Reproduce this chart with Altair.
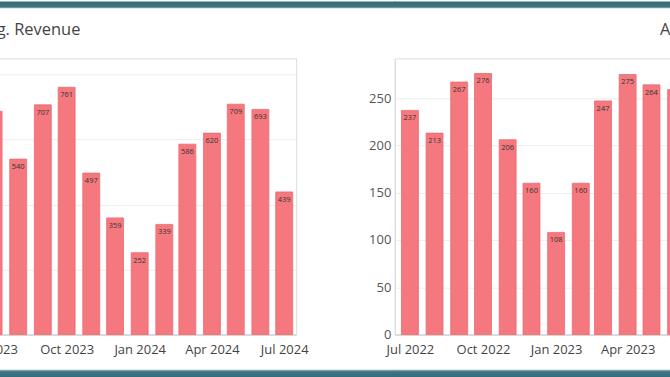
import altair as alt
import pandas as pd

# ---- data ----
left_title = "Avg. Revenue"
left_months = ["2023-07-01", "2023-08-01", "2023-09-01", "2023-10-01", "2023-11-01",
               "2023-12-01", "2024-01-01", "2024-02-01", "2024-03-01", "2024-04-01",
               "2024-05-01", "2024-06-01", "2024-07-01"]
left_values = [687, 540, 707, 761, 497, 359, 252, 339, 586, 620, 709, 693, 439]
left_ticks = ["2023-07-01", "2023-10-01", "2024-01-01", "2024-04-01", "2024-07-01"]
left_grid = [200, 400, 600, 800]

right_title = "Avg. Orders"
right_months = ["2022-07-01", "2022-08-01", "2022-09-01", "2022-10-01", "2022-11-01",
                "2022-12-01", "2023-01-01", "2023-02-01", "2023-03-01", "2023-04-01",
                "2023-05-01", "2023-06-01"]
right_values = [237, 213, 267, 276, 206, 160, 108, 160, 247, 275, 264, 259]
right_ticks = ["2022-07-01", "2022-10-01", "2023-01-01", "2023-04-01", "2023-07-01"]
right_yticks = [0, 50, 100, 150, 200, 250]

BAR = "#F5787E"
BAR_EDGE = "#E86C72"
TEAL_DARK = "#386b78"
TEAL = "#3f7381"
TEAL_MID = "#6f97a2"
TEAL_LIGHT = "#c6d7dc"
GRID = "#eeeeee"
FONT = "Open Sans"


def dt(s):
    y, m, d = (int(p) for p in s.split("-"))
    return alt.DateTime(year=y, month=m, date=d)


grad_top = alt.Gradient(gradient="linear", x1=0, x2=0, y1=0, y2=1, stops=[
    alt.GradientStop(offset=0, color=TEAL_DARK),
    alt.GradientStop(offset=0.7, color=TEAL),
    alt.GradientStop(offset=0.85, color=TEAL_MID),
    alt.GradientStop(offset=1, color=TEAL_LIGHT)])
grad_bot = alt.Gradient(gradient="linear", x1=0, x2=0, y1=0, y2=1, stops=[
    alt.GradientStop(offset=0, color=TEAL_LIGHT),
    alt.GradientStop(offset=0.15, color=TEAL_MID),
    alt.GradientStop(offset=0.3, color=TEAL),
    alt.GradientStop(offset=1, color=TEAL_DARK)])


def panel(title, months, values, xdomain, xticks, width, ydomain, yaxis,
          title_dx, sx1, sx2):
    df = pd.DataFrame({"month": pd.to_datetime(months), "value": values})
    sdf = pd.DataFrame({"k": [0]})
    base = alt.Chart(df).encode(
        x=alt.X("month:T",
                scale=alt.Scale(domain=[dt(xdomain[0]), dt(xdomain[1])],
                                nice=False, padding=0),
                axis=alt.Axis(values=[dt(t) for t in xticks], format="%b %Y",
                              formatType="time", labelFontSize=13, labelColor="#444",
                              labelFont=FONT, ticks=False, tickSize=0, labelPadding=9,
                              domainColor="#d4d4d4", domainWidth=1.5, grid=False,
                              labelFlush=False, labelOverlap=False, title=None)),
        y=alt.Y("value:Q", scale=alt.Scale(domain=ydomain, nice=False, zero=True),
                axis=yaxis),
    )
    bars = base.mark_bar(width=17, fill=BAR, stroke=BAR_EDGE, strokeWidth=0.8)
    labels = base.mark_text(baseline="top", dy=4, fontSize=7.5, color="#333",
                            font=FONT).encode(text=alt.Text("value:Q", format="d"))
    top = alt.Chart(sdf).mark_rect(color=grad_top).encode(
        x=alt.value(sx1), x2=alt.value(sx2), y=alt.value(-57), y2=alt.value(-50))
    bot = alt.Chart(sdf).mark_rect(color=grad_bot).encode(
        x=alt.value(sx1), x2=alt.value(sx2), y=alt.value(312), y2=alt.value(320))
    return alt.layer(top, bot, bars, labels).properties(
        width=width, height=277,
        title=alt.TitleParams(text=title, anchor="start", frame="group", dx=title_dx,
                              dy=50, offset=0, fontSize=16.5, fontWeight="normal",
                              color="#444", font=FONT, baseline="alphabetic"))


left_axis = alt.Axis(values=left_grid, labels=False, ticks=False, domain=False,
                     grid=True, gridColor=GRID, title=None)
right_axis = alt.Axis(values=right_yticks, labelFontSize=13, labelColor="#555",
                      labelFont=FONT, ticks=False, tickSize=0, labelPadding=4,
                      domainColor="#dcdcdc", domainWidth=1.2, grid=True,
                      gridColor=GRID, title=None)

left = panel(left_title, left_months, left_values, ["2023-05-01", "2024-07-16"],
             left_ticks, 352, [0, 850], left_axis, 33, -1000, 452)
right = panel(right_title, right_months, right_values, ["2022-06-12", "2023-07-16"],
              right_ticks, 318, [0, 292], right_axis, 266, 0, 1000)

chart = alt.hconcat(left, right, spacing=99, bounds="flush").properties(
    padding={"left": -1056, "right": -725, "top": 0, "bottom": 0},
    background="white",
).configure_view(stroke=None).configure(font=FONT)

chart.save("out.html", embed_options={"renderer": "svg", "actions": False})
